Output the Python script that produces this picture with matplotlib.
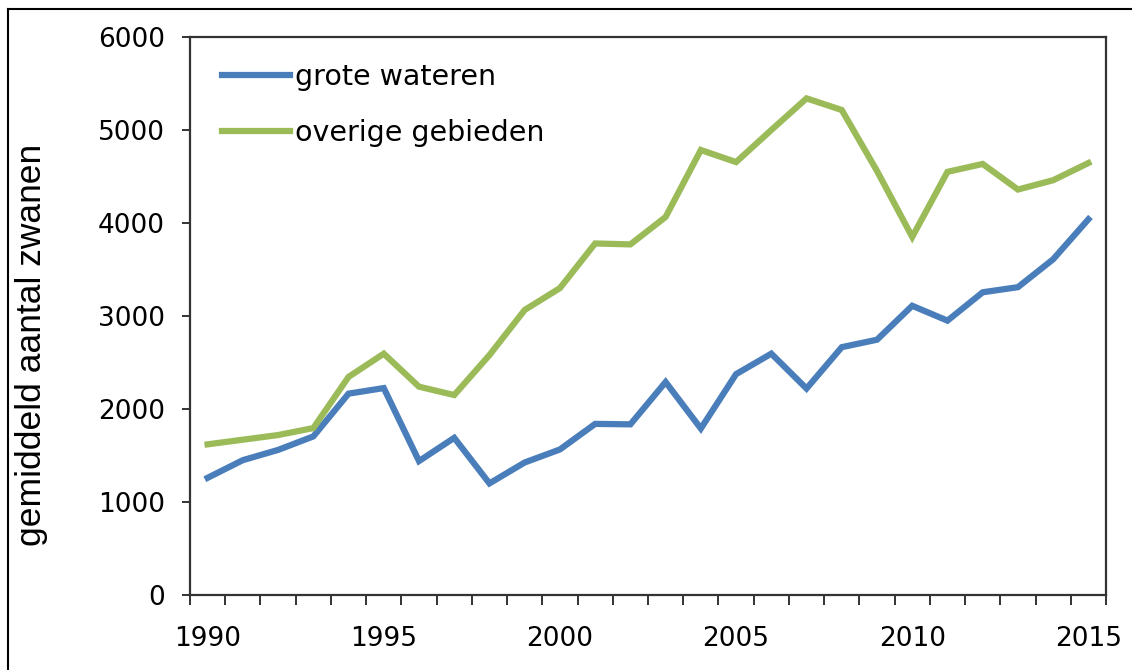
import numpy as np
import matplotlib
matplotlib.use("Agg")
import matplotlib.pyplot as plt
from matplotlib.lines import Line2D

# data
jaren = list(range(1990, 2016))
grote_wateren = [1260, 1450, 1560, 1705, 2165, 2225, 1440, 1690, 1200, 1425,
                 1565, 1840, 1835, 2290, 1790, 2375, 2595, 2220, 2665, 2745,
                 3110, 2950, 3255, 3310, 3610, 4040]
overige_gebieden = [1620, 1670, 1720, 1795, 2345, 2595, 2240, 2150, 2580, 3065,
                    3300, 3780, 3770, 4065, 4785, 4655, 5000, 5340, 5215, 4560,
                    3850, 4550, 4635, 4360, 4460, 4645]
tick_jaren = [1990, 1995, 2000, 2005, 2010, 2015]

blauw = "#4a7ebb"
groen = "#9bbb59"

plt.rcParams['font.family'] = ['DejaVu Sans']

fig = plt.figure(figsize=(11.32, 6.70), dpi=100)
ax = fig.add_axes([190 / 1132, 1 - 595 / 670, 916 / 1132, 558 / 670])

x = np.arange(len(jaren))
ax.plot(x, grote_wateren, color=blauw, lw=4.5, solid_joinstyle='miter', label="grote wateren")
ax.plot(x, overige_gebieden, color=groen, lw=4.5, solid_joinstyle='miter', label="overige gebieden")

ax.set_xlim(-0.5, len(jaren) - 0.5)
ax.set_ylim(0, 6000)
ax.set_yticks(range(0, 7000, 1000))

# category axis: labels at centres, tick marks at the boundaries
ax.set_xticks([jaren.index(j) for j in tick_jaren])
ax.set_xticklabels([str(j) for j in tick_jaren])
ax.set_xticks(np.arange(-0.5, len(jaren)), minor=True)
ax.tick_params(axis='x', which='major', length=0, pad=22, labelsize=19)
ax.tick_params(axis='x', which='minor', direction='out', length=7.5, width=1.4, color='#333333')
ax.tick_params(axis='y', direction='out', length=6, width=1.4, color='#333333', pad=12, labelsize=19)

for s in ax.spines.values():
    s.set_linewidth(1.6)
    s.set_color('#333333')

ax.set_ylabel("gemiddeld aantal zwanen", fontsize=25.5, family='Liberation Sans')
ax.yaxis.set_label_coords((48 - 190) / 916, 0.448)

ax.legend(loc='upper left', bbox_to_anchor=(0.035, 0.953), frameon=False, fontsize=20.5,
          handlelength=2.4, handletextpad=0.15, labelspacing=0.96, borderaxespad=0,
          borderpad=0)

# outer frame of the picture (only left and top edge visible)
fig.add_artist(Line2D([8 / 1132, 8 / 1132], [0, 1 - 9 / 670], transform=fig.transFigure, color='black', lw=1.5))
fig.add_artist(Line2D([8 / 1132, 1], [1 - 9 / 670, 1 - 9 / 670], transform=fig.transFigure, color='black', lw=1.5))

fig.savefig("out.png", dpi=100)
